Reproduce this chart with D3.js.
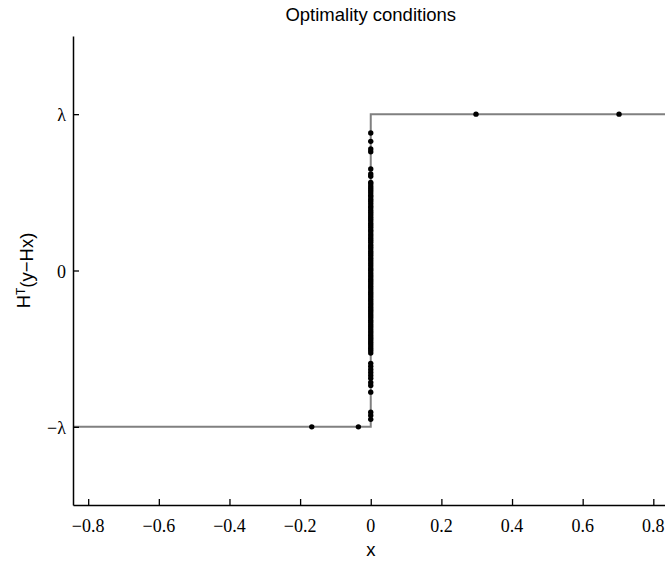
<!DOCTYPE html>
<html>
<head>
<meta charset="utf-8">
<script src="https://cdn.jsdelivr.net/npm/d3@7"></script>
<style>
  html, body { margin: 0; padding: 0; background: #fff; }
  svg { display: block; }
</style>
</head>
<body>
<svg id="chart" width="665" height="563"></svg>
<script>
// Soft-threshold optimality: the correlation H^T(y - Hx) equals ±λ where x ≠ 0
// and lies inside [-λ, λ] where x = 0.
const lambda = 1;

const xTicks = [-0.8, -0.6, -0.4, -0.2, 0, 0.2, 0.4, 0.6, 0.8];
const xTickLabels = ["\u22120.8", "\u22120.6", "\u22120.4", "\u22120.2", "0", "0.2", "0.4", "0.6", "0.8"];
const yTicks = [-lambda, 0, lambda];
const yTickLabels = ["\u2212\u03bb", "0", "\u03bb"];

// Coefficients that are nonzero sit on the ±λ plateaus
const nonzeroX = [-0.167, -0.035, 0.298, 0.703];
const nonzeroY = [-1, -1, 1, 1];

// Zero coefficients: correlation values stacked at x = 0
const zeroY = [
  0.880, 0.826, 0.777, 0.760, 0.650, 0.618, 0.603,
  0.564, 0.553, 0.538, 0.524, 0.511, 0.497, 0.482, 0.470, 0.455, 0.443,
  0.428, 0.413, 0.401, 0.386, 0.372, 0.359, 0.344, 0.331, 0.318, 0.302,
  0.290, 0.276, 0.261, 0.249, 0.233, 0.221, 0.207, 0.193, 0.180, 0.164,
  0.152, 0.139, 0.123, 0.111, 0.097, 0.082, 0.069, 0.055, 0.041, 0.028,
  0.013, 0.001, -0.014, -0.028, -0.041, -0.056, -0.069, -0.083, -0.098,
  -0.110, -0.125, -0.139, -0.152, -0.166, -0.180, -0.193, -0.208, -0.221,
  -0.235, -0.249, -0.262, -0.277, -0.290, -0.303, -0.318, -0.331, -0.346,
  -0.359, -0.372, -0.387, -0.400, -0.414, -0.428, -0.441, -0.456, -0.469,
  -0.483, -0.497, -0.511, -0.528,
  -0.594, -0.613, -0.633, -0.652, -0.671, -0.690, -0.716, -0.735,
  -0.778, -0.907, -0.927, -0.952
];

const xDomain = [-0.843, 0.843];
const yDomain = [-1.5, 1.5];

// Step curve of the subdifferential of λ|x|
const stepX = [xDomain[0], 0, 0, xDomain[1]];
const stepY = [-lambda, -lambda, lambda, lambda];

const svg = d3.select("#chart");
const plot = { left: 73, right: 668.5, top: 36, bottom: 505 };
const serif = "'Liberation Serif', 'Times New Roman', serif";
const sans = "'Liberation Sans', Arial, sans-serif";

const x = d3.scaleLinear().domain(xDomain).range([plot.left, plot.right]);
const y = d3.scaleLinear().domain(yDomain).range([plot.bottom, plot.top]);

// Step line
svg.append("path")
  .datum(stepX.map((v, i) => [v, stepY[i]]))
  .attr("fill", "none")
  .attr("stroke", "#808080")
  .attr("stroke-width", 2)
  .attr("d", d3.line().x(d => x(d[0])).y(d => y(d[1])));

// Points
const pts = nonzeroX.map((v, i) => [v, nonzeroY[i]])
  .concat(zeroY.map(v => [0, v]));
svg.append("g").selectAll("circle")
  .data(pts)
  .join("circle")
  .attr("cx", d => x(d[0]))
  .attr("cy", d => y(d[1]))
  .attr("r", 2.7)
  .attr("fill", "#000");

// Axes: lines and inward ticks from d3.axis, labels set in a serif face
const gx = svg.append("g")
  .attr("transform", `translate(0,${plot.bottom})`)
  .call(d3.axisBottom(x).tickValues(xTicks).tickSizeInner(-6).tickSizeOuter(0).tickFormat(""));
const gy = svg.append("g")
  .attr("transform", `translate(${plot.left},0)`)
  .call(d3.axisLeft(y).tickValues(yTicks).tickSizeInner(-6).tickSizeOuter(0).tickFormat(""));

[gx, gy].forEach(g => {
  g.select(".domain").attr("stroke", "#000").attr("stroke-width", 1.5);
  g.selectAll(".tick line").attr("stroke", "#000").attr("stroke-width", 1.3);
});

svg.append("g").selectAll("text")
  .data(xTicks)
  .join("text")
  .attr("x", d => x(d))
  .attr("y", plot.bottom + 27)
  .attr("text-anchor", "middle")
  .attr("fill", "#000")
  .style("font-family", serif)
  .style("font-size", "18px")
  .text((d, i) => xTickLabels[i]);

svg.append("g").selectAll("text")
  .data(yTicks)
  .join("text")
  .attr("x", plot.left - 7)
  .attr("y", d => y(d) + 7)
  .attr("text-anchor", "end")
  .attr("fill", "#000")
  .style("font-family", serif)
  .style("font-size", "18px")
  .text((d, i) => yTickLabels[i]);

// Title
svg.append("text")
  .attr("x", (plot.left + plot.right) / 2)
  .attr("y", 21)
  .attr("text-anchor", "middle")
  .style("font-family", sans)
  .style("font-size", "18.5px")
  .text("Optimality conditions");

// X label
svg.append("text")
  .attr("x", (plot.left + plot.right) / 2)
  .attr("y", 556)
  .attr("text-anchor", "middle")
  .style("font-family", sans)
  .style("font-size", "18.5px")
  .text("x");

// Y label: H^T(y−Hx)
const yl = svg.append("text")
  .attr("transform", `translate(30,${(plot.top + plot.bottom) / 2}) rotate(-90)`)
  .attr("text-anchor", "middle")
  .style("font-family", sans)
  .style("font-size", "18.5px");
yl.append("tspan").text("H");
yl.append("tspan").attr("dy", "-0.45em").style("font-size", "12px").text("T");
yl.append("tspan").attr("dy", "0.45em").text("(y\u2212Hx)");
</script>
</body>
</html>
